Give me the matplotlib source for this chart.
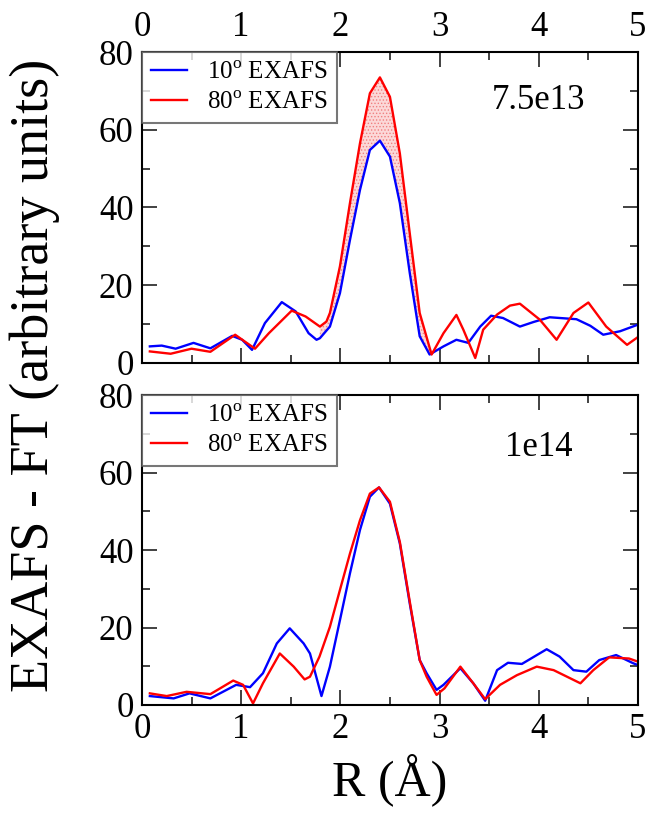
import numpy as np
import matplotlib

matplotlib.use('Agg')
import matplotlib.pyplot as plt

plt.rcParams['font.family'] = ['Liberation Serif', 'DejaVu Serif']
plt.rcParams['mathtext.fontset'] = 'custom'
plt.rcParams['mathtext.rm'] = 'Liberation Serif'
plt.rcParams['hatch.linewidth'] = 0.6

# --- data (R in Angstrom, FT magnitude) ---
# dose 7.5e13, 10 deg
top_x_10 = [0.08, 0.20, 0.34, 0.52, 0.69, 0.91, 1.01, 1.11, 1.24, 1.41, 1.55, 1.68, 1.76,
            1.794, 1.895, 1.996, 2.097, 2.198, 2.298, 2.399, 2.50, 2.60, 2.70, 2.80,
            2.90, 3.04, 3.17, 3.29, 3.41, 3.52, 3.64, 3.81, 3.95, 4.11, 4.38, 4.52,
            4.65, 4.82, 5.0]
top_y_10 = [4.2, 4.4, 3.6, 5.1, 3.7, 6.9, 5.9, 3.3, 10.2, 15.6, 13.2, 7.6, 5.9,
            6.3, 9.3, 17.9, 31.6, 44.5, 54.8, 57.2, 53.1, 41.1, 23.1, 6.8,
            2.1, 4.2, 5.9, 5.1, 9.3, 12.1, 11.5, 9.3, 10.5, 11.7, 11.2, 9.5,
            7.2, 8.1, 9.8]
# dose 7.5e13, 80 deg
top_x_80 = [0.08, 0.29, 0.50, 0.69, 0.94, 1.14, 1.28, 1.51, 1.65, 1.794, 1.86,
            1.895, 1.996, 2.097, 2.198, 2.298, 2.399, 2.50, 2.60, 2.70, 2.80, 2.92,
            3.04, 3.17, 3.24, 3.36, 3.44, 3.58, 3.71, 3.81, 4.01, 4.18, 4.35, 4.50,
            4.68, 4.89, 5.0]
top_y_80 = [2.9, 2.3, 3.6, 2.8, 7.2, 3.6, 7.6, 13.4, 11.9, 9.3, 10.6,
            12.8, 24.8, 41.1, 56.5, 69.4, 73.5, 68.5, 53.9, 33.3, 12.8, 2.1,
            7.6, 12.3, 8.5, 1.2, 8.5, 12.4, 14.7, 15.2, 11.1, 5.9, 12.8, 15.5,
            9.3, 4.6, 6.6]
# dose 1e14, 10 deg
bot_x_10 = [0.08, 0.32, 0.48, 0.69, 0.95, 1.09, 1.22, 1.36, 1.49, 1.63, 1.694, 1.81,
            1.895, 1.996, 2.097, 2.198, 2.298, 2.39, 2.50, 2.60, 2.70, 2.80, 2.87,
            2.97, 3.04, 3.21, 3.34, 3.46, 3.58, 3.69, 3.83, 4.08, 4.21, 4.35, 4.48,
            4.61, 4.78, 4.95, 5.0]
bot_y_10 = [2.3, 1.7, 3.0, 1.7, 5.2, 4.6, 8.2, 15.9, 19.8, 15.9, 13.3, 2.3,
            9.9, 21.9, 34.0, 45.2, 53.8, 56.2, 52.0, 41.7, 26.2, 11.6, 8.2,
            3.9, 5.2, 9.5, 5.6, 1.1, 9.0, 10.9, 10.6, 14.4, 12.5, 9.0, 8.6,
            11.6, 12.9, 10.8, 10.3]
# dose 1e14, 80 deg
bot_x_80 = [0.08, 0.25, 0.45, 0.69, 0.92, 1.02, 1.12, 1.22, 1.39, 1.53, 1.64, 1.694,
            1.79, 1.895, 1.996, 2.097, 2.198, 2.298, 2.39, 2.50, 2.60, 2.70, 2.80,
            2.87, 2.97, 3.05, 3.21, 3.34, 3.46, 3.61, 3.78, 3.98, 4.15, 4.42, 4.55,
            4.71, 4.91, 5.0]
bot_y_80 = [3.0, 2.3, 3.4, 2.8, 6.3, 5.2, 0.4, 5.6, 13.3, 9.9, 6.6, 7.3,
            12.5, 20.2, 29.7, 39.1, 47.7, 54.6, 56.2, 52.5, 42.1, 26.7, 11.6,
            7.3, 2.6, 4.3, 9.9, 5.6, 1.5, 5.2, 7.7, 9.9, 9.0, 5.6, 9.0,
            12.3, 12.0, 11.2]

doses = ['7.5e13', '1e14']
labels = ['10$^{\\mathrm{o}}$ EXAFS', '80$^{\\mathrm{o}}$ EXAFS']
x_ticks = [0, 1, 2, 3, 4, 5]
y_ticks = [0, 20, 40, 60, 80]


def style_axis(ax, top_labels):
    ax.set_xlim(0, 5)
    ax.set_ylim(0, 80)
    ax.set_xticks(x_ticks)
    ax.set_yticks(y_ticks)
    ax.set_xticks(np.arange(0.5, 5, 1.0), minor=True)
    ax.set_yticks([10, 30, 50, 70], minor=True)
    ax.tick_params(which='both', direction='in', top=True, right=True,
                   labeltop=top_labels, labelbottom=not top_labels,
                   labelsize=25, width=1.3, color='#333333', pad=6)
    ax.tick_params(which='major', length=11)
    ax.tick_params(which='minor', length=6)
    for s in ax.spines.values():
        s.set_linewidth(1.5)
        s.set_color('black')


fig = plt.figure(figsize=(6.57, 8.15), dpi=100)
ax1 = fig.add_axes([0.216, 0.555, 0.755, 0.381])
ax2 = fig.add_axes([0.216, 0.135, 0.755, 0.380])

# top panel: shaded gap between the two peaks
tx10, ty10 = np.array(top_x_10), np.array(top_y_10)
tx80, ty80 = np.array(top_x_80), np.array(top_y_80)
m10 = (tx10 >= 1.79) & (tx10 <= 2.9)
m80 = (tx80 >= 1.79) & (tx80 <= 2.92)
ax1.fill(np.concatenate([tx80[m80], tx10[m10][::-1]]),
         np.concatenate([ty80[m80], ty10[m10][::-1]]),
         facecolor='#fcd8d8', edgecolor='#f08080', hatch='.....', linewidth=0)
ax1.plot(top_x_10, top_y_10, color='#0000ff', lw=1.7, label=labels[0])
ax1.plot(top_x_80, top_y_80, color='#ff0000', lw=1.7, label=labels[1])
ax1.text(4.0, 67.5, doses[0], fontsize=25, ha='center', va='center')
style_axis(ax1, True)

# bottom panel
ax2.plot(bot_x_10, bot_y_10, color='#0000ff', lw=1.7, label=labels[0])
ax2.plot(bot_x_80, bot_y_80, color='#ff0000', lw=1.7, label=labels[1])
ax2.text(4.0, 66.5, doses[1], fontsize=25, ha='center', va='center')
style_axis(ax2, False)

for ax in (ax1, ax2):
    leg = ax.legend(loc='upper left', fontsize=18, frameon=True, fancybox=False,
                    borderaxespad=0, handlelength=1.45, handletextpad=0.8,
                    borderpad=0.37, labelspacing=0.3)
    leg.get_frame().set_edgecolor('#555555')
    leg.get_frame().set_linewidth(1.5)

ax2.set_xlabel('R (Å)', fontsize=36, labelpad=6)
fig.text(0.053, 0.54, 'EXAFS - FT (arbitrary units)', fontsize=39,
         rotation=90, ha='center', va='center')

fig.savefig('out.png', dpi=100)
